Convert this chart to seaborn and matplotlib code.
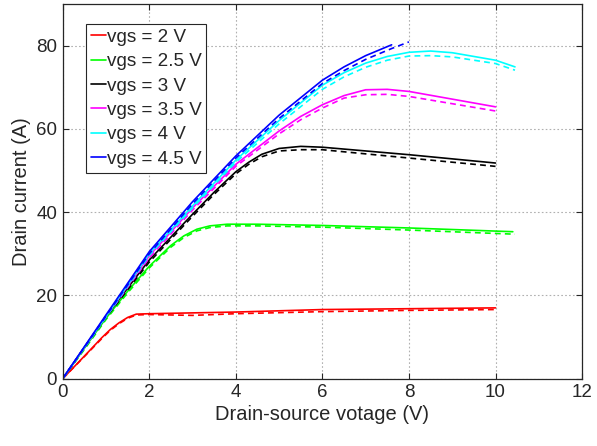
import matplotlib
matplotlib.use("Agg")
import matplotlib.pyplot as plt
import seaborn as sns
import pandas as pd

# ---- data ----
labels = ["vgs = 2 V", "vgs = 2.5 V", "vgs = 3 V", "vgs = 3.5 V", "vgs = 4 V", "vgs = 4.5 V"]
colors = ["#FF0000", "#00FF00", "#000000", "#FF00FF", "#00FFFF", "#0000FF"]

x_2_sol = [0, 0.5, 0.9, 1.1, 1.3, 1.5, 1.7, 2, 4, 6, 8, 10]
y_2_sol = [0, 5.4, 9.8, 11.8, 13.4, 14.7, 15.5, 15.6, 16.0, 16.6, 16.8, 17.0]
x_2_dash = [0, 0.5, 0.9, 1.1, 1.3, 1.5, 1.7, 2, 3, 4, 6, 8, 10]
y_2_dash = [0, 5.3, 9.6, 11.6, 13.2, 14.5, 15.3, 15.4, 15.2, 15.6, 16.1, 16.4, 16.6]

x_25_sol = [0, 0.5, 1, 1.5, 2, 2.5, 2.8, 3.1, 3.4, 3.8, 4.5, 6, 8, 10.4]
y_25_sol = [0, 7.3, 14.5, 21, 27, 32, 34.3, 35.9, 36.7, 37.1, 37.1, 36.8, 36.2, 35.3]
x_25_dash = [0, 0.5, 1, 1.5, 2, 2.5, 2.8, 3.1, 3.4, 3.8, 4.5, 6, 8, 10.45]
y_25_dash = [0, 7.0, 14.2, 20.6, 26.6, 31.6, 33.9, 35.5, 36.3, 36.7, 36.7, 36.4, 35.7, 34.7]

x_3_sol = [0, 1, 2, 3, 3.5, 4, 4.3, 4.6, 5.0, 5.5, 6, 8, 10]
y_3_sol = [0, 15, 28.5, 39.5, 44.8, 49.7, 52.0, 53.9, 55.3, 55.8, 55.6, 53.8, 51.8]
x_3_dash = [0, 1, 2, 3, 3.5, 4, 4.3, 4.6, 5.0, 5.5, 6, 8, 10]
y_3_dash = [0, 14.7, 28, 39, 44.3, 49.2, 51.5, 53.3, 54.7, 55.0, 55.0, 53.0, 51.0]

x_35_sol = [0, 1, 2, 3, 4, 5, 5.5, 6, 6.5, 7, 7.5, 8, 10]
y_35_sol = [0, 15, 29.5, 41, 51.5, 59.5, 63.0, 65.8, 68, 69.4, 69.5, 69.0, 65.3]
x_35_dash = [0, 1, 2, 3, 4, 5, 5.5, 6, 6.5, 7, 7.5, 8, 10]
y_35_dash = [0, 14.8, 29, 40.5, 51, 58.8, 62.2, 65, 67.4, 68.2, 68.3, 67.8, 64.3]

x_4_sol = [0, 1, 2, 3, 4, 5, 6, 6.5, 7, 7.5, 8, 8.5, 9, 10, 10.45]
y_4_sol = [0, 15, 30, 41.5, 52.5, 62, 70.5, 73.5, 75.8, 77.4, 78.4, 78.7, 78.3, 76.5, 74.9]
x_4_dash = [0, 1, 2, 3, 4, 5, 6, 6.5, 7, 7.5, 8, 8.5, 9, 10, 10.45]
y_4_dash = [0, 14.8, 29.6, 41, 52, 61.2, 69.5, 72.5, 74.8, 76.5, 77.5, 77.6, 77.3, 75.7, 74.1]

x_45_sol = [0, 1, 2, 3, 4, 5, 6, 6.5, 7, 7.6]
y_45_sol = [0, 15.3, 30.5, 42.5, 53.5, 63.3, 71.7, 74.9, 77.6, 80.2]
x_45_dash = [0, 1, 2, 3, 4, 5, 6, 6.5, 7, 7.6, 8]
y_45_dash = [0, 15, 30, 42, 53, 62.5, 70.9, 74.0, 76.7, 79.3, 80.9]

solid = [(x_2_sol, y_2_sol), (x_25_sol, y_25_sol), (x_3_sol, y_3_sol),
         (x_35_sol, y_35_sol), (x_4_sol, y_4_sol), (x_45_sol, y_45_sol)]
dashed = [(x_2_dash, y_2_dash), (x_25_dash, y_25_dash), (x_3_dash, y_3_dash),
          (x_35_dash, y_35_dash), (x_4_dash, y_4_dash), (x_45_dash, y_45_dash)]

x_ticks = [0, 2, 4, 6, 8, 10, 12]
y_ticks = [0, 20, 40, 60, 80]

# ---- plot ----
sns.set_style("white")
plt.rcParams['font.family'] = ['Liberation Sans', 'DejaVu Sans']

fig = plt.figure(figsize=(5.97, 4.46), dpi=100)
ax = fig.add_axes([0.105, 0.151, 0.870, 0.840])

handles = []
for (xs, ys), (xd, yd), c, lab in zip(solid, dashed, colors, labels):
    df_s = pd.DataFrame({"x": xs, "y": ys})
    df_d = pd.DataFrame({"x": xd, "y": yd})
    sns.lineplot(data=df_d, x="x", y="y", ax=ax, color=c, lw=1.2,
                 estimator=None, sort=False, linestyle=(0, (3.5, 2.5)))
    sns.lineplot(data=df_s, x="x", y="y", ax=ax, color=c, lw=1.2,
                 estimator=None, sort=False)
    handles.append(ax.lines[-1])

ax.set_xlim(0, 12)
ax.set_ylim(0, 90)
ax.set_xticks(x_ticks)
ax.set_yticks(y_ticks)
ax.grid(True, color="#b0b0b0", linestyle=(0, (1.5, 2)), linewidth=0.8)
ax.tick_params(direction="in", length=4, width=0.8, colors="#262626",
               labelsize=13.5, top=True, right=True, bottom=True, left=True,
               labelcolor="#262626", pad=4)
for sp in ax.spines.values():
    sp.set_visible(True)
    sp.set_color("#262626")
    sp.set_linewidth(0.9)

ax.set_xlabel("Drain-source votage (V)", fontsize=14.5, color="#262626", labelpad=3)
ax.set_ylabel("Drain current (A)", fontsize=14.5, color="#262626", labelpad=4)

leg = ax.legend(handles, labels, loc="upper left", bbox_to_anchor=(0.045, 0.947),
                fontsize=13.6, handlelength=0.8, handletextpad=0.05,
                labelspacing=0.38, borderpad=0.25, borderaxespad=0,
                frameon=True, fancybox=False, edgecolor="#262626", framealpha=1)
leg.get_frame().set_linewidth(0.8)

fig.savefig("out.png", dpi=100)
